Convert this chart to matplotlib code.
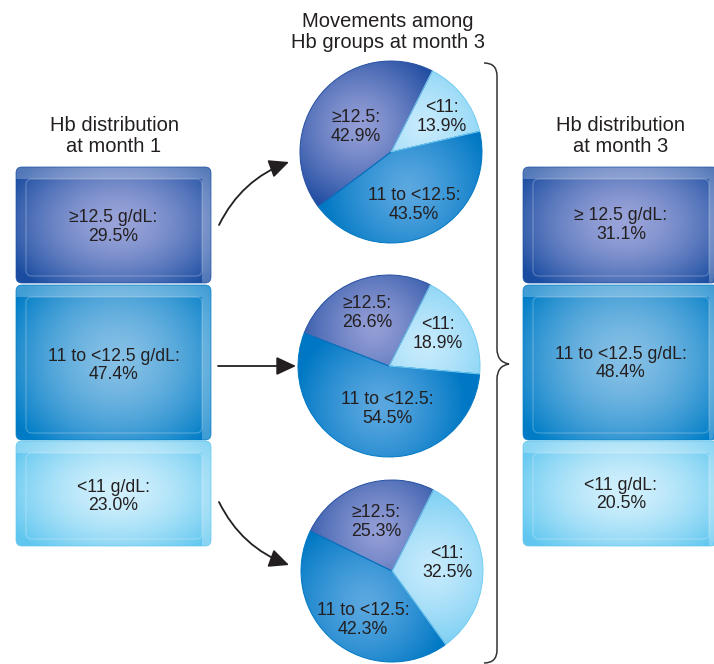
import numpy as np
import matplotlib
matplotlib.use("Agg")
import matplotlib.pyplot as plt
from matplotlib.patches import FancyBboxPatch, FancyArrowPatch, Rectangle, PathPatch
from matplotlib.path import Path

plt.rcParams['font.family'] = ['Liberation Sans', 'DejaVu Sans']
TXT = '#231f20'

# ---- data ----
groups = ["≥12.5", "11 to <12.5", "<11"]
month1_labels = ["≥12.5 g/dL:", "11 to <12.5 g/dL:", "<11 g/dL:"]
month1_pct = [29.5, 47.4, 23.0]
month3_labels = ["≥ 12.5 g/dL:", "11 to <12.5 g/dL:", "<11 g/dL:"]
month3_pct = [31.1, 48.4, 20.5]

# share of each month-1 group that ends in (≥12.5, 11 to <12.5, <11) at month 3
moves_from_high = [42.9, 43.5, 13.9]
moves_from_mid = [26.6, 54.5, 18.9]
moves_from_low = [25.3, 42.3, 32.5]

# ---- styling ----
grad_colors = [
    ((0.60, 0.64, 0.85), (0.10, 0.30, 0.63)),   # ≥12.5
    ((0.52, 0.75, 0.90), (0.00, 0.49, 0.78)),   # 11 to <12.5
    ((0.82, 0.94, 0.99), (0.38, 0.78, 0.94)),   # <11
]
pie_colors = [
    ((0.58, 0.62, 0.84), (0.14, 0.31, 0.64)),
    ((0.36, 0.66, 0.88), (0.00, 0.47, 0.77)),
    ((0.78, 0.92, 0.99), (0.45, 0.80, 0.95)),
]
box_rows = [(167, 116), (285, 155), (441, 105)]   # top, height in pixels
pie_layout = [(391, 152, 91), (389, 366, 91), (392, 571, 91)]
pie_label_pos = [
    [(356, 127), (414, 205), (442, 117)],
    [(367, 313), (387, 409), (438, 334)],
    [(376, 522), (363, 620), (447, 563)],
]

fig = plt.figure(figsize=(7.14, 6.64), dpi=100)
ax = fig.add_axes([0, 0, 1, 1])


def gradient_fill(clip, extent, center, radius, c_in, c_out, power=1.4, z=1):
    x0, x1, y0, y1 = extent
    xs = np.linspace(x0, x1, 240)
    ys = np.linspace(y0, y1, 240)
    X, Y = np.meshgrid(xs, ys)
    d = np.sqrt(((X - center[0]) / radius[0]) ** 2 + ((Y - center[1]) / radius[1]) ** 2)
    t = np.clip(d, 0, 1) ** power
    img = (1 - t)[..., None] * np.array(c_in) + t[..., None] * np.array(c_out)
    im = ax.imshow(img, extent=(x0, x1, y1, y0), origin='upper', aspect='auto',
                   interpolation='bilinear', zorder=z)
    im.set_clip_path(clip)
    return im


def draw_box(x0, y0, w, h, cols):
    outer = FancyBboxPatch((x0, y0), w, h, boxstyle="round,pad=0,rounding_size=6",
                           fc='none', ec=cols[1], lw=0.6, alpha=0.8, zorder=3)
    ax.add_patch(outer)
    gradient_fill(outer, (x0, x0 + w, y0, y0 + h), (x0 + w * 0.52, y0 + h * 0.48),
                  (w * 0.62, h * 0.72), cols[0], cols[1], power=1.6)
    top = Rectangle((x0, y0), w, 12, fc='white', ec='none', alpha=0.25, zorder=2)
    right = Rectangle((x0 + w - 9, y0 + 12), 9, h - 12, fc='white', ec='none', alpha=0.25, zorder=2)
    for p in (top, right):
        ax.add_patch(p)
        p.set_clip_path(outer)
    inner = FancyBboxPatch((x0 + 10, y0 + 12), w - 19, h - 19,
                           boxstyle="round,pad=0,rounding_size=6",
                           fc='none', ec='white', lw=0.8, alpha=0.25, zorder=2)
    ax.add_patch(inner)
    inner.set_clip_path(outer)


# month 1 and month 3 boxes
for i, (top, h) in enumerate(box_rows):
    draw_box(16, top, 195, h, grad_colors[i])
    draw_box(523, top, 195, h, grad_colors[i])
    cy = top + h / 2 + 3 if i else top + h / 2 + 2
    ax.text(113.5, cy, f"{month1_labels[i]}\n{month1_pct[i]:.1f}%", ha='center', va='center',
            fontsize=12.7, color=TXT, linespacing=1.15, zorder=6)
    ax.text(621, cy - 2, f"{month3_labels[i]}\n{month3_pct[i]:.1f}%", ha='center', va='center',
            fontsize=12.7, color=TXT, linespacing=1.15, zorder=6)

# pies
moves = [moves_from_high, moves_from_mid, moves_from_low]
for k, vals in enumerate(moves):
    cx, cy, r = pie_layout[k]
    wedges, _ = ax.pie(vals, center=(cx, cy), radius=r, startangle=-63, counterclock=False,
                       wedgeprops=dict(linewidth=0))
    for j, w in enumerate(wedges):
        w.set_facecolor('none')
        w.set_edgecolor(pie_colors[j][1])
        w.set_linewidth(0.7)
        w.set_zorder(3)
        mid = np.deg2rad((w.theta1 + w.theta2) / 2)
        gc = (cx + 0.45 * r * np.cos(mid), cy + 0.45 * r * np.sin(mid))
        gradient_fill(w, (cx - r, cx + r, cy - r, cy + r), gc, (0.95 * r, 0.95 * r),
                      pie_colors[j][0], pie_colors[j][1], power=1.3)
        lx, ly = pie_label_pos[k][j]
        ax.text(lx, ly, f"{groups[j]}:\n{vals[j]:.1f}%", ha='center', va='center',
                fontsize=12.8, color=TXT, linespacing=1.15, zorder=6)

# arrows from month-1 boxes to pies
arrow_kw = dict(arrowstyle="-|>,head_length=0.6,head_width=0.28", mutation_scale=20,
                color=TXT, lw=1.3, zorder=6, shrinkA=0, shrinkB=0)
ax.add_patch(FancyArrowPatch((219, 225), (289, 162), connectionstyle="arc3,rad=-0.2", **arrow_kw))
ax.add_patch(FancyArrowPatch((218, 366), (296, 366), **arrow_kw))
ax.add_patch(FancyArrowPatch((219, 502), (289, 565), connectionstyle="arc3,rad=0.2", **arrow_kw))

# curly brace
verts = [(484, 63), (497, 63), (497, 76),
         (497, 349), (497, 362), (509, 364),
         (497, 366), (497, 379),
         (497, 650), (497, 663), (484, 663)]
codes = [Path.MOVETO, Path.CURVE3, Path.CURVE3,
         Path.LINETO, Path.CURVE3, Path.CURVE3,
         Path.CURVE3, Path.CURVE3,
         Path.LINETO, Path.CURVE3, Path.CURVE3]
ax.add_patch(PathPatch(Path(verts, codes), fc='none', ec='#333333', lw=1.1, zorder=6))

# headings
ax.text(388, 32, "Movements among\nHb groups at month 3", ha='center', va='center',
        fontsize=14.5, color=TXT, linespacing=1.15)
ax.text(114, 136, "Hb distribution\nat month 1", ha='center', va='center',
        fontsize=14.5, color=TXT, linespacing=1.15)
ax.text(621, 136, "Hb distribution\nat month 3", ha='center', va='center',
        fontsize=14.5, color=TXT, linespacing=1.15)

ax.set_xlim(0, 714)
ax.set_ylim(664, 0)
ax.set_aspect('auto')
ax.axis('off')
fig.savefig("out.png", dpi=100)
